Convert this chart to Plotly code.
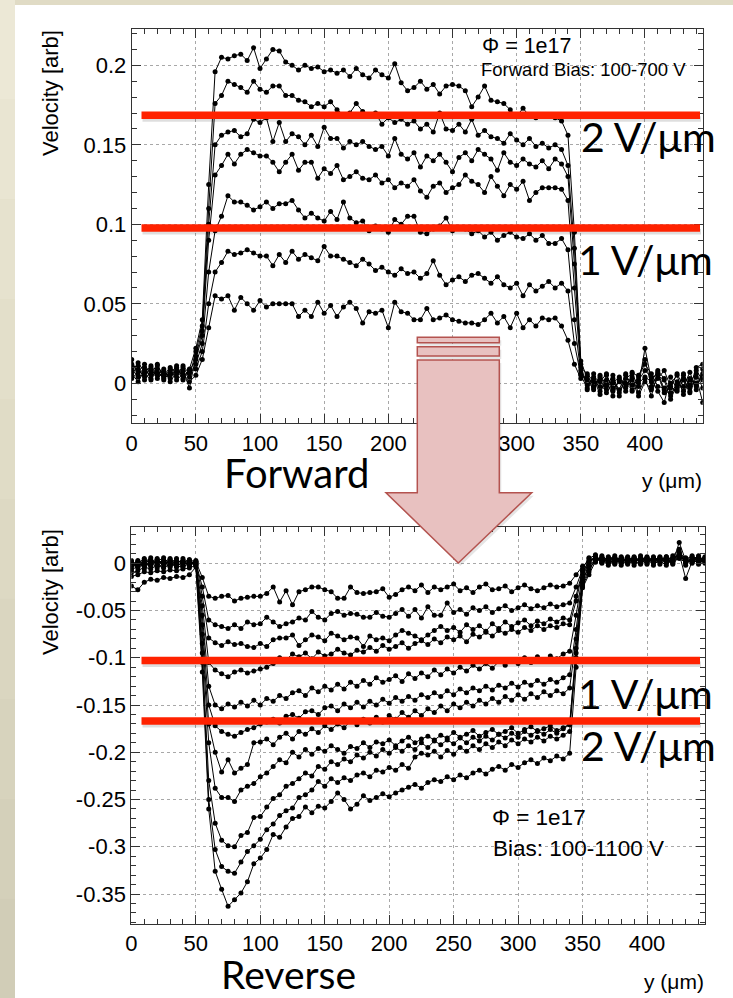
import plotly.graph_objects as go

W, H = 733, 998

# ---------------- data (velocity in units of 1e-3 arb) ----------------
Y_UM = [0, 5, 10, 15, 20, 25, 30, 35, 40, 45, 50, 55, 60, 65, 70, 75, 80, 85, 90, 95,
        100, 105, 110, 115, 120, 125, 130, 135, 140, 145, 150, 155, 160, 165, 170, 175,
        180, 185, 190, 195, 200, 205, 210, 215, 220, 225, 230, 235, 240, 245, 250, 255,
        260, 265, 270, 275, 280, 285, 290, 295, 300, 305, 310, 315, 320, 325, 330, 335,
        340, 345, 350, 355, 360, 365, 370, 375, 380, 385, 390, 395, 400, 405, 410, 415,
        420, 425, 430, 435, 440, 445]

FWD_100V = [8, 5, 10, 3, 7, 4, 9, 2, 6, 1, 5, 15,
            35, 55, 53, 55, 46, 54, 50, 46, 52, 48, 50, 50, 50, 50, 42, 46, 42, 51, 44, 49,
            42, 48, 51, 47, 38, 45, 44, 46, 35, 51, 45, 44, 40, 40, 47, 40, 41, 43, 40, 39,
            38, 38, 37, 40, 44, 38, 42, 35, 44, 35, 40, 36, 41, 40, 41, 36, 27,
            12, 3,
            5, -2, 3, -6, 0, 4, -3, 2, -8, 1, -4, 3, 8, -2, -5, 2, -6, 4, -12]
FWD_200V = [12, 9, 4, 11, 6, 8, 3, 10, 5, 7, 9, 20,
            50, 70, 76, 83, 81, 82, 84, 82, 80, 80, 74, 81, 76, 83, 78, 81, 79, 77, 86, 80,
            80, 78, 76, 74, 78, 75, 71, 73, 70, 68, 72, 69, 70, 66, 69, 77, 68, 62, 65, 67,
            64, 68, 69, 66, 63, 67, 62, 60, 63, 55, 62, 58, 61, 64, 60, 63, 58,
            25, 5,
            -3, 6, -5, 2, -8, 3, 0, -4, 5, 12, 6, -2, -3, -8, 1, -5, 3, -2, 6]
FWD_300V = [3, 7, 12, 5, 9, 2, 8, 4, 11, 6, 12, 25,
            70, 96, 105, 118, 114, 114, 112, 109, 111, 114, 110, 113, 113, 115, 109, 104,
            107, 104, 102, 108, 103, 114, 104, 101, 102, 96, 99, 97, 95, 103, 100, 105, 105,
            95, 94, 97, 99, 104, 96, 98, 97, 94, 96, 92, 95, 90, 93, 95, 92, 91, 94, 90, 93,
            88, 88, 91, 84,
            40, 6,
            2, -4, 4, -2, 5, -6, 3, 6, -2, 22, 2, -5, -12, 4, -4, 5, -1, 8, 2]
FWD_400V = [6, 1, 8, 10, 3, 7, 5, 9, 2, 8, 15, 30,
            90, 131, 137, 144, 138, 144, 147, 145, 143, 143, 139, 133, 139, 144, 134, 139,
            139, 129, 135, 132, 137, 128, 130, 133, 129, 128, 131, 126, 128, 123, 126, 124,
            128, 121, 117, 124, 126, 120, 123, 125, 131, 127, 125, 120, 130, 124, 118, 125,
            122, 127, 115, 120, 123, 123, 123, 122, 115,
            60, 8,
            -1, 3, -7, 5, -3, 1, -5, 7, 4, 15, -2, 6, -6, -3, 6, -2, 7, -4, 9]
FWD_500V = [15, 4, 6, 2, 11, 5, 10, 6, 8, -3, 17, 33,
            100, 150, 156, 158, 159, 155, 157, 166, 164, 167, 152, 164, 152, 157, 155, 150,
            156, 149, 161, 154, 154, 148, 152, 150, 152, 149, 147, 149, 143, 154, 144, 141,
            145, 136, 143, 140, 144, 139, 133, 142, 145, 140, 147, 144, 141, 134, 145, 139,
            137, 141, 138, 136, 140, 135, 141, 138, 130,
            75, 10,
            6, 1, -2, -4, 3, -8, 5, -1, 2, 8, 4, 5, 2, -10, -1, 3, -5, 6, -3]
FWD_600V = [10, 11, 2, 8, 5, 9, 1, 7, 10, 4, 20, 36,
            110, 176, 181, 190, 188, 186, 183, 190, 185, 183, 187, 187, 181, 181, 178, 177,
            174, 176, 174, 177, 172, 169, 170, 176, 171, 168, 170, 163, 167, 164, 166, 163,
            165, 160, 163, 158, 170, 160, 159, 163, 158, 166, 156, 159, 155, 154, 151, 157,
            153, 150, 154, 149, 151, 148, 150, 147, 137,
            85, 12,
            -4, 4, 1, 6, -5, 2, -2, 4, -6, 3, -8, 7, -4, 0, 5, -7, 2, 0, 4]
FWD_700V = [4, 13, 7, 6, 12, 3, 6, 11, 3, 9, 22, 40,
            125, 196, 205, 204, 206, 207, 203, 211, 198, 204, 210, 209, 202, 200, 197, 200,
            198, 199, 196, 197, 195, 197, 193, 198, 194, 192, 197, 194, 192, 201, 189, 184,
            186, 190, 185, 188, 182, 187, 188, 187, 184, 174, 180, 187, 178, 177, 176, 172,
            168, 173, 168, 167, 169, 168, 167, 165, 156,
            95, 14,
            3, -3, 5, -1, 2, -4, 6, -5, 0, 4, 1, 8, 3, -6, -3, 6, -3, 10, 12]

REV_100V = [-2, 3, -1, 4, 0, 2, -3, 1, 3, 0, 2, -15,
            -35, -37, -35, -34, -40, -37, -36, -35, -35, -32, -25, -41, -29, -44, -30, -28,
            -25, -25, -28, -30, -37, -37, -25, -31, -32, -31, -30, -27, -36, -33, -28, -25,
            -29, -23, -31, -25, -28, -25, -22, -29, -26, -31, -25, -22, -28, -27, -24, -30,
            -26, -23, -27, -29, -26, -23, -25, -24, -21,
            -12, -3,
            3, 6, 1, 4, 8, 2, 5, 0, 6, 3, 7, 1, 5, 2, 6, 4, 8, 3, 5]
REV_200V = [1, -3, 2, -2, 4, -1, 3, -2, 0, 4, 1, -25,
            -60, -65, -67, -69, -65, -69, -62, -65, -64, -57, -62, -67, -64, -62, -58, -60,
            -51, -57, -60, -53, -51, -55, -53, -54, -57, -57, -52, -56, -57, -53, -49, -56,
            -49, -58, -46, -55, -55, -42, -52, -49, -54, -47, -50, -46, -52, -48, -45, -50,
            -47, -44, -48, -45, -47, -43, -46, -44, -42,
            -25, -6,
            6, 2, 7, 3, 0, 5, 2, 7, 1, 5, 2, 6, 0, 4, 9, 1, 3, 6, 2]
REV_300V = [-5, 0, 5, -1, 2, 6, -2, 3, 1, -1, 3, -35,
            -79, -84, -87, -83, -86, -85, -88, -89, -85, -88, -81, -79, -79, -76, -87, -81,
            -76, -78, -82, -74, -77, -81, -78, -79, -88, -77, -81, -79, -82, -76, -71, -74,
            -77, -81, -76, -71, -67, -71, -68, -73, -65, -70, -66, -72, -64, -69, -62, -67,
            -63, -60, -66, -61, -64, -59, -62, -58, -60,
            -35, -8,
            1, 8, 3, 6, 4, 0, 7, 3, 4, -1, 5, 3, 7, 4, 12, 5, 1, 4, 7]
REV_400V = [3, -4, 1, 6, -3, 2, 0, 5, -2, 2, 0, -45,
            -105, -113, -117, -120, -115, -113, -116, -114, -112, -110, -106, -100, -102,
            -96, -99, -95, -101, -94, -98, -96, -91, -95, -97, -92, -94, -89, -93, -87, -91,
            -88, -84, -90, -85, -82, -86, -80, -84, -78, -81, -77, -83, -75, -78, -73, -77,
            -71, -74, -70, -73, -68, -71, -66, -70, -66, -68, -64, -65,
            -40, -9,
            -2, 4, 5, 1, 6, 3, 0, 5, 2, 6, 1, 4, 2, 8, 15, -2, 6, 2, 4]
REV_500V = [-8, -2, 4, 1, 5, -4, 4, -1, 5, 1, -1, -55,
            -130, -150, -154, -149, -152, -147, -151, -145, -150, -143, -146, -140, -143,
            -137, -135, -140, -132, -136, -130, -134, -128, -133, -126, -130, -124, -128,
            -121, -126, -123, -119, -125, -117, -122, -116, -120, -113, -118, -112, -116,
            -110, -114, -108, -112, -106, -111, -104, -108, -102, -106, -100, -105, -99,
            -103, -98, -101, -96, -93,
            -55, -12,
            5, 9, 0, 5, 2, 7, 4, 1, 8, 2, 6, -1, 4, 1, 22, 3, 4, 0, 6]
REV_600V = [-1, 2, -6, 3, -1, 4, 1, -4, 2, -3, 2, -65,
            -150, -172, -178, -181, -183, -179, -176, -174, -170, -168, -165, -169, -162,
            -160, -164, -157, -156, -160, -153, -151, -156, -149, -153, -147, -152, -146,
            -150, -144, -148, -142, -146, -141, -145, -139, -142, -137, -141, -135, -139,
            -133, -137, -132, -135, -130, -134, -129, -132, -127, -131, -126, -129, -124,
            -128, -123, -126, -121, -118,
            -70, -15,
            2, 5, 4, -2, 3, 5, 1, 6, 0, 4, 3, 7, 1, 5, 10, -16, 2, 5, 1]
REV_700V = [2, -5, 0, -3, 3, 1, 5, 0, -3, 3, -2, -75,
            -170, -200, -221, -208, -222, -217, -213, -190, -189, -186, -192, -184, -180,
            -186, -178, -181, -175, -179, -172, -176, -170, -174, -167, -171, -165, -169,
            -163, -168, -161, -165, -158, -163, -156, -161, -154, -158, -151, -156, -149,
            -153, -147, -151, -145, -149, -143, -147, -141, -145, -139, -144, -138, -142,
            -136, -140, -135, -138, -132,
            -80, -18,
            -4, 1, 6, 2, 5, 1, 6, -2, 4, 7, 0, 3, 6, 0, 8, 4, 7, 1, 3]
REV_800V = [-6, 1, -3, 2, -5, 0, -4, 2, 1, -2, 1, -85,
            -190, -238, -248, -248, -252, -240, -236, -233, -226, -222, -215, -208, -211,
            -200, -205, -197, -202, -196, -199, -193, -197, -201, -194, -196, -190, -195,
            -189, -191, -187, -193, -188, -184, -190, -186, -183, -187, -182, -185, -179,
            -184, -181, -177, -183, -179, -176, -181, -178, -174, -180, -176, -173, -178,
            -175, -172, -177, -174, -170,
            -90, -20,
            0, 7, 2, 4, -1, 4, 3, 5, 3, 0, 5, 2, -2, 6, 5, 1, 3, 7, 0]
REV_900V = [-10, -8, -4, -6, -2, -5, -1, -3, -4, 0, -1, -95,
            -230, -275, -293, -299, -300, -288, -285, -269, -268, -258, -249, -245, -236,
            -233, -228, -222, -225, -215, -218, -210, -213, -207, -210, -203, -206, -200,
            -204, -197, -201, -195, -199, -193, -197, -190, -195, -188, -192, -187, -191,
            -185, -190, -184, -188, -183, -187, -181, -185, -180, -184, -178, -182, -177,
            -181, -176, -180, -175, -171,
            -95, -22,
            -6, 3, 5, 0, 4, 6, -1, 3, 5, 2, 4, 6, 3, -1, 7, 2, 5, -1, 4]
REV_1000V = [-14, -12, -9, -10, -8, -9, -7, -8, -6, -5, -2, -105,
             -250, -303, -321, -326, -328, -316, -305, -299, -292, -282, -276, -267, -262,
             -259, -248, -245, -240, -231, -236, -228, -232, -227, -230, -224, -222, -226,
             -219, -221, -216, -219, -213, -217, -205, -201, -203, -199, -205, -198, -202,
             -195, -199, -193, -197, -191, -195, -189, -193, -187, -191, -186, -189, -184,
             -188, -183, -186, -182, -178,
             -100, -24,
             -9, 6, 1, 7, 2, 3, 5, 2, -1, 6, 1, 5, 4, 3, 9, 6, 0, 4, 6]
REV_1100V = [-24, -28, -20, -17, -18, -15, -16, -14, -15, -12, -4, -115,
             -260, -326, -345, -363, -356, -349, -337, -318, -312, -303, -287, -290, -279,
             -270, -268, -258, -264, -257, -259, -252, -243, -250, -260, -255, -246, -251,
             -248, -244, -247, -243, -240, -237, -234, -238, -232, -229, -231, -226, -229,
             -224, -227, -222, -219, -223, -218, -215, -219, -213, -216, -211, -208, -212,
             -206, -209, -204, -207, -201,
             -110, -26,
             -12, 2, 8, 3, 6, -2, 4, 6, 3, 5, -2, 4, 7, 2, 11, 0, 4, 8, 2]

FWD_CURVES = [FWD_100V, FWD_200V, FWD_300V, FWD_400V, FWD_500V, FWD_600V, FWD_700V]
REV_CURVES = [REV_100V, REV_200V, REV_300V, REV_400V, REV_500V, REV_600V, REV_700V,
              REV_800V, REV_900V, REV_1000V, REV_1100V]

X_TICKVALS = [0, 50, 100, 150, 200, 250, 300, 350, 400]
X_TICKTEXT = ["0", "50", "100", "150", "200", "250", "300", "350", "400"]
FWD_TICKVALS = [0, 0.05, 0.1, 0.15, 0.2]
FWD_TICKTEXT = ["0", "0.05", "0.1", "0.15", "0.2"]
REV_TICKVALS = [0, -0.05, -0.1, -0.15, -0.2, -0.25, -0.3, -0.35]
REV_TICKTEXT = ["0", "-0.05", "-0.1", "-0.15", "-0.2", "-0.25", "-0.3", "-0.35"]

for i, c in enumerate(FWD_CURVES + REV_CURVES):
    if len(c) != len(Y_UM):
        raise ValueError(f"curve {i} has {len(c)} points")

# ---------------- helpers ----------------
def px(x):
    return x / W


def py(y):
    return 1 - y / H


ROOT_FONT = "Liberation Sans, Arial, Helvetica, sans-serif"
SLIDE_FONT = "Lato, Noto Sans, sans-serif"

fig = go.Figure()
for c in FWD_CURVES:
    fig.add_trace(go.Scatter(x=Y_UM, y=[v / 1000 for v in c], mode="lines+markers",
                             line=dict(color="black", width=1),
                             marker=dict(color="black", size=5),
                             xaxis="x", yaxis="y", hoverinfo="skip", showlegend=False))
for c in REV_CURVES:
    fig.add_trace(go.Scatter(x=Y_UM, y=[v / 1000 for v in c], mode="lines+markers",
                             line=dict(color="black", width=1),
                             marker=dict(color="black", size=5),
                             xaxis="x2", yaxis="y2", hoverinfo="skip", showlegend=False))

axis_common = dict(showline=True, linecolor="#333333", linewidth=1, mirror="ticks",
                   ticks="inside", ticklen=9, tickwidth=1, tickcolor="#333333",
                   showgrid=True, gridcolor="#a8a8a8", griddash="dot", gridwidth=1,
                   zeroline=False,
                   tickfont=dict(family=ROOT_FONT, size=22, color="black"))

fig.update_layout(
    width=W, height=H, margin=dict(l=0, r=0, t=0, b=0),
    paper_bgcolor="#E0DBC5", plot_bgcolor="white", showlegend=False,
    template="none",
    font=dict(family=ROOT_FONT, color="black"),
    xaxis=dict(domain=[px(131.7), px(702.7)], range=[0, 445], anchor="y",
               tickmode="array", tickvals=X_TICKVALS, ticktext=X_TICKTEXT,
               minor=dict(tickmode="linear", tick0=0, dtick=10, ticks="inside",
                          ticklen=5, tickcolor="#333333", showgrid=False),
               **axis_common),
    yaxis=dict(domain=[py(423.3), py(29.3)], range=[-0.02516, 0.22264], anchor="x",
               tickmode="array", tickvals=FWD_TICKVALS, ticktext=FWD_TICKTEXT,
               minor=dict(tickmode="linear", tick0=0, dtick=0.01, ticks="inside",
                          ticklen=5, tickcolor="#333333", showgrid=False),
               **axis_common),
    xaxis2=dict(domain=[px(131.4), px(705)], range=[0, 445], anchor="y2",
                tickmode="array", tickvals=X_TICKVALS, ticktext=X_TICKTEXT,
                minor=dict(tickmode="linear", tick0=0, dtick=10, ticks="inside",
                           ticklen=5, tickcolor="#333333", showgrid=False),
                **axis_common),
    yaxis2=dict(domain=[py(924), py(527.3)], range=[-0.38175, 0.0381], anchor="x2",
                tickmode="array", tickvals=REV_TICKVALS, ticktext=REV_TICKTEXT,
                minor=dict(tickmode="linear", tick0=0, dtick=0.01, ticks="inside",
                           ticklen=5, tickcolor="#333333", showgrid=False),
                **axis_common),
)

shapes = []
# slide background: cream strip on the left with a soft vertical gradient
STRIP_COLORS = ["#ECE8D6", "#E9E5D2", "#E6E2CE", "#E3DFCA", "#E0DCC6",
                "#DDD9C3", "#DAD6C0", "#D7D3BD", "#D4D0BA", "#D1CDB7"]
band = H / len(STRIP_COLORS)
for k, col in enumerate(STRIP_COLORS):
    shapes.append(dict(type="rect", xref="paper", yref="paper", x0=0, x1=px(15),
                       y0=py(band * (k + 1)), y1=py(band * k), fillcolor=col,
                       line=dict(width=0), layer="below"))
# white slide area
shapes.append(dict(type="rect", xref="paper", yref="paper", x0=px(15), x1=1,
                   y0=0, y1=py(5), fillcolor="white", line=dict(width=0), layer="below"))

# red guide lines with soft shadow
for (xa, xb, yc) in [(141.5, 700, 115.3), (141.5, 700, 228), (141.5, 700, 660.5), (141.5, 700, 721)]:
    shapes.append(dict(type="rect", xref="paper", yref="paper", x0=px(xa + 1), x1=px(xb + 1),
                       y0=py(yc + 6.5), y1=py(yc + 1), fillcolor="rgba(0,0,0,0.13)",
                       line=dict(width=0), layer="above"))
    shapes.append(dict(type="rect", xref="paper", yref="paper", x0=px(xa), x1=px(xb),
                       y0=py(yc + 3.8), y1=py(yc - 3.8), fillcolor="#FF2200",
                       line=dict(width=0), layer="above"))


# arrow (bars + shaft + head)
def path(points):
    return "M " + " L ".join(f"{px(x):.5f},{py(y):.5f}" for x, y in points) + " Z"


arrow_pts = [(417.3, 360), (499.3, 360), (499.3, 492.7), (531.7, 492.7), (458.3, 563),
             (386, 492.7), (417.3, 492.7)]
bar1 = [(417.3, 337.3), (499.3, 337.3), (499.3, 342.7), (417.3, 342.7)]
bar2 = [(417.3, 346.7), (499.3, 346.7), (499.3, 356), (417.3, 356)]
for pts in (bar1, bar2, arrow_pts):
    shadow = [(x + 2, y + 3) for x, y in pts]
    shapes.append(dict(type="path", xref="paper", yref="paper", path=path(shadow),
                       fillcolor="rgba(0,0,0,0.10)", line=dict(width=0), layer="above"))
for pts in (bar1, bar2, arrow_pts):
    shapes.append(dict(type="path", xref="paper", yref="paper", path=path(pts),
                       fillcolor="#E8C1C0", line=dict(color="#B4534F", width=1.5),
                       layer="above"))
fig.update_layout(shapes=shapes)

anns = []


def ann(text, x, y, size, family=ROOT_FONT, xanchor="left", yanchor="middle", angle=0):
    anns.append(dict(text=text, x=px(x), y=py(y), xref="paper", yref="paper",
                     showarrow=False, xanchor=xanchor, yanchor=yanchor, textangle=angle,
                     font=dict(family=family, size=size, color="black"), borderpad=0))


# ROOT plot labels
ann("Velocity [arb]", 50, 93, 22, xanchor="center", angle=-90)
ann("Velocity [arb]", 50, 592, 22, xanchor="center", angle=-90)
ann("y (μm)", 703, 480, 21, xanchor="right")
ann("y (μm)", 705, 981, 21, xanchor="right")
ann("Φ = 1e17", 481, 46.5, 21.5)
ann("Forward Bias: 100-700 V", 480, 69, 18.5)
ann("Φ = 1e17", 491, 817.5, 22.5)
ann("Bias: 100-1100 V", 492, 848, 22.5)

# slide labels
ann("2 V/μm", 580, 137, 41, family=SLIDE_FONT)
ann("1 V/μm", 577, 259, 41, family=SLIDE_FONT)
ann("1 V/μm", 577, 693, 41, family=SLIDE_FONT)
ann("2 V/μm", 580, 745, 41, family=SLIDE_FONT)
ann("Forward", 223, 473, 40, family=SLIDE_FONT)
ann("Reverse", 220, 974, 39, family=SLIDE_FONT)

fig.update_layout(annotations=anns)

fig.write_html("out.html", config={"displayModeBar": False},
               post_script="document.body.style.margin='0';document.body.style.overflow='hidden';")
